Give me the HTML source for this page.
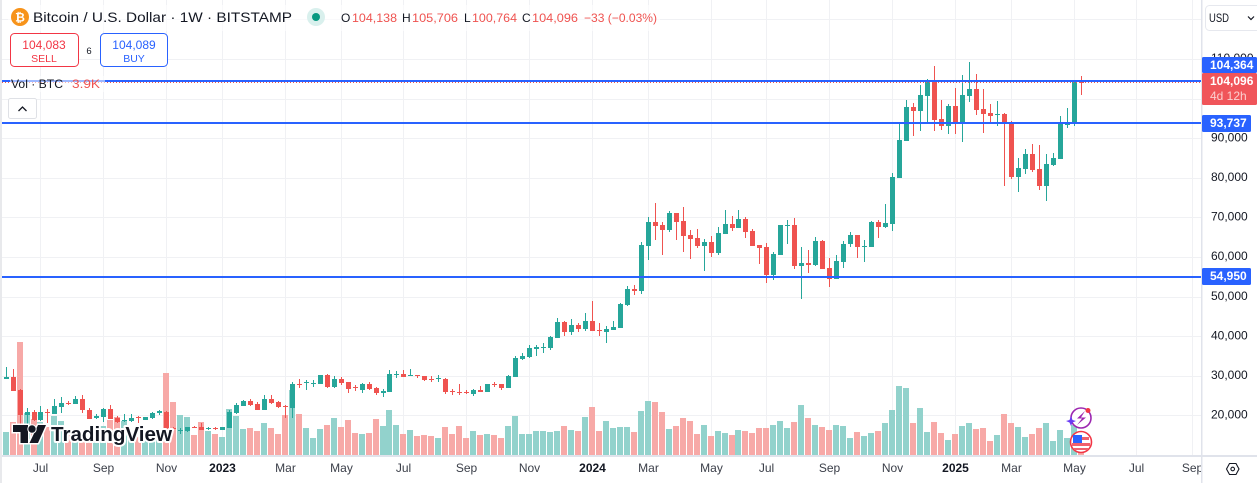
<!DOCTYPE html>
<html lang="en">
<head>
<meta charset="utf-8">
<title>Bitcoin / U.S. Dollar weekly chart</title>
<style>
html,body{margin:0;padding:0;background:#fff;width:1257px;height:483px;overflow:hidden}
svg{display:block;font-family:"Liberation Sans",sans-serif}
</style>
</head>
<body>
<svg id="chart" xmlns="http://www.w3.org/2000/svg" width="1257" height="483" viewBox="0 0 1257 483">
  <rect x="0" y="0" width="1257" height="483" fill="#ffffff"/>
  <g id="grid"></g>
  <g id="volumes"></g>
  <g id="candles"></g>
  <g id="levels"></g>

  <g>
    <path transform="translate(13,425)" d="M0 0H15V18H7.5V7H0Z M25 0H33L25 18H16.500Z" fill="#131722" stroke="#fff" stroke-width="3" paint-order="stroke"/>
    <circle cx="32" cy="429" r="3.700" fill="#131722" stroke="#fff" stroke-width="2" paint-order="stroke"/>
    <text x="51" y="441" font-size="20" font-weight="700" textLength="121" lengthAdjust="spacingAndGlyphs" fill="#131722" stroke="#fff" stroke-width="4" stroke-linejoin="round" paint-order="stroke">TradingView</text>
  </g>

  <g>
    <circle cx="1081" cy="418" r="10" fill="#fff" stroke="#9c27b0" stroke-width="1.600"/>
    <path d="M1085 411L1077 418.500H1082L1077 425L1086 417.500H1081Z" fill="#9c27b0"/>
    <path d="M1071 416L1072.500 420L1076 421L1072.500 422.500L1071 426L1069.500 422.500L1066 421L1069.500 420Z" fill="#6a3bf5"/>
    <circle cx="1088" cy="410.500" r="2.500" fill="#f23645"/>
  </g>
  <g>
    <circle cx="1081" cy="442" r="10.500" fill="#fff" stroke="#f23645" stroke-width="1.600"/>
    <rect x="1073" y="437" width="16" height="3" fill="#f0616d"/>
    <rect x="1072" y="443" width="18" height="3" fill="#f0616d"/>
    <rect x="1074" y="448" width="14" height="2" fill="#f0616d"/>
    <rect x="1073" y="435" width="9" height="8" fill="#2962ff"/>
  </g>

  <!-- header legend -->
  <g>
    <rect x="8" y="5" width="652" height="26" fill="#fff" opacity="0.6"/>
    <circle cx="20" cy="17" r="9" fill="#f7931a"/>
    <text x="20" y="21.500" font-size="12" font-weight="700" fill="#fff" text-anchor="middle">₿</text>
    <text x="33" y="22" font-size="14" fill="#131722" textLength="259" lengthAdjust="spacingAndGlyphs">Bitcoin / U.S. Dollar · 1W · BITSTAMP</text>
    <circle cx="316" cy="17" r="9" fill="#d9f0ed"/>
    <circle cx="316" cy="17" r="4" fill="#089981"/>
    <text x="341" y="22" font-size="12" fill="#131722">O</text>
    <text x="352" y="22" font-size="12" fill="#ef5350" textLength="45" lengthAdjust="spacingAndGlyphs">104,138</text>
    <text x="402" y="22" font-size="12" fill="#131722">H</text>
    <text x="412" y="22" font-size="12" fill="#ef5350" textLength="46" lengthAdjust="spacingAndGlyphs">105,706</text>
    <text x="464" y="22" font-size="12" fill="#131722">L</text>
    <text x="472" y="22" font-size="12" fill="#ef5350" textLength="45" lengthAdjust="spacingAndGlyphs">100,764</text>
    <text x="522" y="22" font-size="12" fill="#131722">C</text>
    <text x="532" y="22" font-size="12" fill="#ef5350" textLength="46" lengthAdjust="spacingAndGlyphs">104,096</text>
    <text x="584" y="22" font-size="12" fill="#ef5350" textLength="73" lengthAdjust="spacingAndGlyphs">−33 (−0.03%)</text>
  </g>

  <g>
    <rect x="10.500" y="33.500" width="68" height="33" rx="4" fill="#fff" stroke="#f23645"/>
    <text x="44" y="49" font-size="12" fill="#f23645" text-anchor="middle">104,083</text>
    <text x="44" y="62" font-size="10.500" fill="#f23645" text-anchor="middle">SELL</text>
  </g>
  <text x="89" y="54" font-size="9.500" fill="#131722" text-anchor="middle">6</text>
  <g>
    <rect x="100.500" y="33.500" width="67" height="33" rx="4" fill="#fff" stroke="#2962ff"/>
    <text x="134" y="49" font-size="12" fill="#2962ff" text-anchor="middle">104,089</text>
    <text x="134" y="62" font-size="10.500" fill="#2962ff" text-anchor="middle">BUY</text>
  </g>

  <rect x="10" y="76" width="95" height="16" fill="#fff" opacity="0.55"/>
  <text x="11" y="88" font-size="12" fill="#131722" textLength="52" lengthAdjust="spacingAndGlyphs">Vol · BTC</text>
  <text x="72" y="88" font-size="12" fill="#ef5350" textLength="28" lengthAdjust="spacingAndGlyphs">3.9K</text>
  <g>
    <rect x="8.500" y="98.500" width="28" height="20" rx="2" fill="#fff" stroke="#dfe1e6"/>
    <path d="M18.500 111L22.500 107L26.500 111" fill="none" stroke="#131722" stroke-width="1.300"/>
  </g>

  <!-- panes -->
  <rect x="0" y="0" width="2" height="483" fill="#e8e9ec"/>
  <rect x="2" y="457" width="1199" height="26" fill="#fff"/>
  <rect x="2" y="455" width="1255" height="2" fill="#e0e3eb"/>
  <g id="timeLabels"></g>
  <rect x="1202" y="0" width="55" height="483" fill="#fff"/>
  <rect x="1201" y="0" width="1.500" height="483" fill="#e0e3eb"/>
  <rect x="1202" y="455" width="55" height="2" fill="#e0e3eb"/>
  <g id="priceLabels"></g>

  <g>
    <rect x="1205.500" y="5.500" width="60" height="25" rx="4" fill="#fff" stroke="#e6e8ee"/>
    <text x="1209" y="22" font-size="12" fill="#131722" textLength="20" lengthAdjust="spacingAndGlyphs">USD</text>
    <path d="M1248 16.500L1251 19.500L1254 16.500" fill="none" stroke="#131722" stroke-width="1.200"/>
  </g>
  <g id="priceTags"></g>
  <g>
    <path d="M1226.500 469L1229.500 463.500H1236L1239 469L1236 474.500H1229.500Z" fill="none" stroke="#131722" stroke-width="1.100"/>
    <circle cx="1232.700" cy="469" r="1.800" fill="none" stroke="#131722" stroke-width="1.100"/>
  </g>
</svg>
<script>
// Weekly OHLC in USD
const opens = [29090,29595,26310,20000,20755,18735,20755,20250,22020,23030,22780,24040,21260,19240,19495,21515,19240,18485,18485,19495,18735,19240,20500,20755,16715,15960,15960,16970,16970,16465,16715,16210,16715,20500,22270,23535,22780,21260,24040,23280,22270,21770,27830,28080,27830,27830,30100,27070,29090,28330,27070,26310,27830,26820,25555,25810,30100,30350,29850,30100,29850,29090,29090,29090,26060,25810,25810,25300,26310,25810,27830,27830,26820,29595,34140,34645,36665,36920,36920,39440,43480,40960,42725,41715,43735,41460,40960,41460,41970,47770,51815,51310,62675,68730,67975,66710,71005,68985,65450,64690,62675,63680,60905,65700,68225,67220,69490,66460,62925,62420,55350,60400,67720,67975,57625,58380,57875,63935,57120,54340,58635,63175,65450,62420,62420,68730,67470,68225,79840,89185,97770,96760,100550,104080,94740,92970,98020,93980,100550,102315,97265,96255,95750,96000,93980,80095,82115,85900,82115,77820,83125,84640,93225,93480,104138];
const highs = [32120,31615,26565,21770,21260,22270,21515,24040,24545,23535,24800,25050,21770,20250,21770,22525,19745,20250,20250,19745,19495,20755,21260,21000,16970,16715,16970,17220,17980,16970,16970,16970,21260,23030,23790,24040,23280,25050,25050,23535,22500,28330,29090,28840,28840,30100,30350,29850,29595,28500,27575,28080,28330,27070,26565,31360,31110,31360,31615,30300,30000,29850,30100,29340,26565,27830,26310,26565,27320,27830,28330,28000,30100,34900,35655,37675,37675,38180,39950,44490,43700,44240,43230,45755,48785,43230,42470,43735,48280,52570,52825,63680,69995,73530,68730,71510,71200,72520,66710,66965,64440,65200,67470,71760,70250,71760,69995,66965,63100,63430,61155,67975,69240,69740,62420,61660,64945,64190,59645,60400,63935,66210,65600,64190,68985,69240,73275,81105,93480,99540,98780,103325,104840,108120,99540,98530,102570,105850,109130,106100,102315,98530,99285,96255,94235,84890,87165,88425,88175,85900,86155,95500,97520,104590,105706];
const lows = [29090,26060,17220,17725,18485,18485,17980,20250,20500,22525,22780,20500,18990,18990,18230,18990,17980,18230,18230,17980,18735,18990,20000,15710,15710,15200,15710,16715,16210,16210,16210,16210,16715,20250,22270,22270,21260,21260,22780,21770,19240,19240,26820,26310,27070,27830,26820,26820,27575,25555,26060,25555,26310,25050,24545,25810,29340,29595,29850,29340,28585,28330,28330,25300,25050,25050,25300,24800,25810,25810,27070,26310,26820,29595,33890,34390,34900,35655,36410,39440,39950,40200,40960,41210,41210,39950,38180,41460,41970,47520,50300,50550,59135,64190,60400,66210,64190,61155,59390,62165,56360,59895,60400,65700,66460,67220,64690,62675,58125,53330,54085,60400,63175,56865,49290,55855,57625,56865,52320,54340,57120,62420,59645,58635,62420,64690,67220,66460,79840,89185,90445,91710,93980,91710,91960,90950,90950,88930,99030,95750,91205,93480,92970,77820,79590,76310,80850,81355,76810,74035,82870,84640,92470,92970,100764];
const closes = [29595,26060,20000,20755,18735,20755,20630,22270,23030,22900,24040,21260,18990,19745,21515,18990,18230,18735,19240,19240,19495,20500,21010,16465,16465,16210,16970,16715,16210,16715,16465,16970,20755,22525,23535,22525,21260,24040,23030,22020,22150,27830,27575,28330,28080,30100,27070,29090,28080,26565,26820,27830,26565,25555,26060,30350,30350,29595,30220,29850,28840,28840,29340,25810,25810,25555,25555,26310,25810,27830,27575,26820,29850,34390,34900,36920,37170,37170,39695,43480,40960,42725,41715,43735,41210,41210,41715,42220,48020,51815,51310,62925,68730,67720,66710,71005,68730,65200,64440,62675,63680,60905,65955,68225,67220,69490,66210,62675,62165,55350,60650,67975,67975,57625,58380,57875,63935,56865,54340,58885,63175,65450,62420,62675,68730,67470,68480,80095,89435,97770,96760,100800,104080,94490,92970,98020,93980,100800,102315,97010,96000,95500,96000,93480,80095,82365,85900,81865,77820,83375,84890,93480,93980,104080,104096];
// Weekly volume in thousand BTC
const volumes = [30,43,147,55,47,43,36,51,44,26,23,26,21,29,38,46,49,44,20,23,20,20,20,107,69,52,49,26,43,31,27,23,60,51,34,35,31,42,35,27,52,85,53,35,22,34,39,48,36,46,29,27,29,47,38,59,39,27,33,25,26,25,22,36,27,38,22,31,26,27,26,22,38,51,27,27,31,31,30,31,38,33,31,49,62,31,44,35,36,36,30,57,70,69,56,34,38,48,44,27,39,25,31,29,26,33,31,29,35,35,39,44,35,43,65,48,39,36,33,39,38,22,30,25,29,31,42,59,90,87,42,61,30,43,29,20,27,38,42,34,35,18,26,53,42,36,23,27,35,42,18,33,22,39,3.9];
// Axis data
const priceTicks = [110000,90000,80000,70000,60000,50000,40000,30000,20000];
const gridPrices = [120000,110000,100000,90000,80000,70000,60000,50000,40000,30000,20000];
const timeTickLabels = ["Jul","Sep","Nov","2023","Mar","May","Jul","Sep","Nov","2024","Mar","May","Jul","Sep","Nov","2025","Mar","May","Jul","Sep"];
const timeTickWeeks = [5,14,23,31,40,48,57,66,75,84,92,101,109,118,127,136,144,153,162,170];
const levelPrices = [104364,93737,54950];
const lastPrice = 104096;

const NS = "http://www.w3.org/2000/svg";
const UP = "#26a69a", DOWN = "#ef5350", UPV = "#92d2cc", DOWNV = "#f7a9a7", GRID = "#f0f1f4", TEXT = "#131722", BLUE = "#2962ff";

function xPix(i){ return Math.floor(6.09 + 6.98 * i); }
function yAt(p){ return 415.3 - (p - 20000) * 0.00396; }
function vHeight(v){ return v / 1.3; }
function mk(tag, attrs, parent){
  const el = document.createElementNS(NS, tag);
  for (const k in attrs) el.setAttribute(k, attrs[k]);
  parent.appendChild(el);
  return el;
}
function fmt(p){ return Number(p).toLocaleString("en-US"); }

const gridG = document.getElementById("grid");
const volG = document.getElementById("volumes");
const candleG = document.getElementById("candles");
const levelG = document.getElementById("levels");
const timeG = document.getElementById("timeLabels");
const priceG = document.getElementById("priceLabels");
const tagG = document.getElementById("priceTags");

gridPrices.forEach(function(p){
  const y = Math.round(yAt(p)) + 0.5;
  const l = mk("line", {x1:2, x2:1201, y1:y, y2:y, stroke:GRID, "stroke-width":1}, gridG);
  
  
});
timeTickWeeks.forEach(function(w, k){
  const x = xPix(w) + 0.5;
  const l = mk("line", {x1:x, x2:x, y1:0, y2:455, stroke:GRID, "stroke-width":1}, gridG);
  
  
  const isYear = /^\d+$/.test(timeTickLabels[k]);
  const t = mk("text", {x:x, y:472, "font-size":12, "text-anchor":"middle", fill:isYear ? TEXT : "#3a3e48", "font-weight":isYear ? 700 : 400}, timeG);
  t.textContent = timeTickLabels[k];
  
  
});

volumes.forEach(function(v, i){
  const up = closes[i] >= opens[i];
  const h = Math.max(1, Math.round(vHeight(v)));
  const x = Math.max(2, xPix(i) - 3);
  const r = mk("rect", {x:x, y:455 - h, width:xPix(i) + 3 - x, height:h, fill:up ? UPV : DOWNV}, volG);
  
  
});

opens.forEach(function(o, i){
  const c = closes[i], up = c >= o, col = up ? UP : DOWN, px = xPix(i);
  const yH = Math.round(yAt(highs[i])), yL = Math.round(yAt(lows[i]));
  const top = Math.round(yAt(Math.max(o, c))), bot = Math.round(yAt(Math.min(o, c)));
  const g = mk("g", {}, candleG);
  
  
  const w = mk("rect", {x:px, y:yH, width:1, height:Math.max(1, yL - yH), fill:col}, g);
  
  
  const b = mk("rect", {x:px - 2, y:top, width:5, height:Math.max(1, bot - top), fill:col}, g);
  
  
});

levelPrices.forEach(function(p){
  const y = Math.round(yAt(p));
  const l = mk("line", {x1:2, x2:1201, y1:y, y2:y, stroke:BLUE, "stroke-width":2}, levelG);
  
  
});
const lastY = Math.round(yAt(lastPrice)) + 0.5;
const lastLine = mk("line", {x1:2, x2:1201, y1:lastY, y2:lastY, stroke:DOWN, "stroke-width":1, "stroke-dasharray":"1 2"}, levelG);



priceTicks.forEach(function(p){
  const t = mk("text", {x:1211, y:yAt(p) + 3.300, "font-size":12, fill:TEXT}, priceG);
  t.textContent = fmt(p);
  
  
});

function tag(val, x, w, top, h, fill, bold){
  const r = mk("rect", {x:x, y:top, width:w, height:h, rx:1.500, fill:fill}, tagG);
  
  
  const t = mk("text", {x:1210, y:top + 12, "font-size":12, "font-weight":bold ? 700 : 400, fill:"#fff"}, tagG);
  t.textContent = val;
  
  
}
tag(fmt(levelPrices[0]), 1202, 55, 57, 16, BLUE, true);
tag(fmt(lastPrice), 1202, 55, 73, 32, "#f0555a", true);
tag(fmt(levelPrices[1]), 1202, 49, 115, 17, BLUE, true);
tag(fmt(levelPrices[2]), 1202, 49, 268, 17, BLUE, true);
const cd = mk("text", {x:1210, y:100, "font-size":12, fill:"#fbd0d0"}, tagG);
cd.textContent = "4d 12h";


</script>
</body>
</html>
